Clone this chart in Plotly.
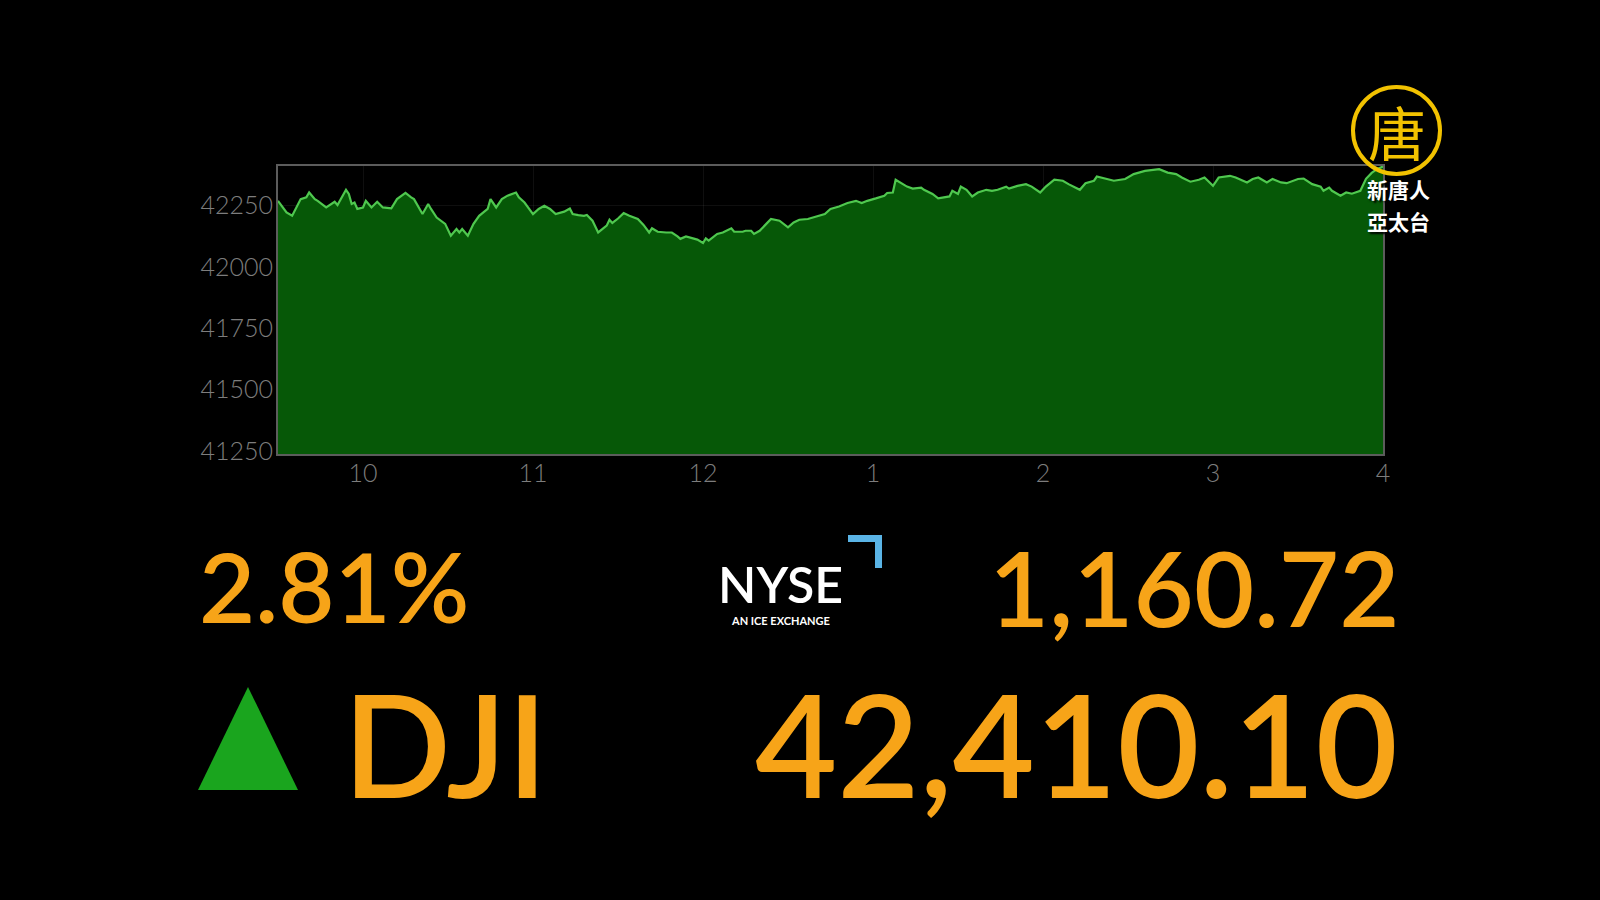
import plotly.graph_objects as go

# ---------------- data ----------------
session_date = "2025-05-12"
times = ["09:30","09:33","09:35","09:38","09:40","09:41","09:43","09:44","09:47","09:50",
         "09:51","09:53","09:54","09:55","09:56","09:57","09:58","10:00","10:01","10:03",
         "10:05","10:07","10:10","10:12","10:15","10:17","10:18","10:21","10:23","10:24",
         "10:26","10:29","10:31","10:33","10:34","10:35","10:37","10:39","10:41","10:44",
         "10:45","10:47","10:49","10:51","10:54","10:55","10:57","11:00","11:02","11:04",
         "11:06","11:08","11:11","11:13","11:14","11:16","11:18","11:19","11:21","11:23",
         "11:25","11:26","11:27","11:28","11:30","11:32","11:34","11:37","11:39","11:41",
         "11:42","11:44","11:47","11:49","11:51","11:52","11:54","11:57","11:58","12:00",
         "12:01","12:02","12:05","12:07","12:10","12:11","12:14","12:15","12:17","12:18",
         "12:20","12:22","12:24","12:27","12:30","12:32","12:34","12:37","12:39","12:41",
         "12:43","12:45","12:48","12:51","12:54","12:56","12:58","13:01","13:04","13:05",
         "13:07","13:08","13:10","13:12","13:14","13:17","13:18","13:21","13:23","13:25",
         "13:27","13:28","13:30","13:31","13:33","13:35","13:37","13:40","13:42","13:44",
         "13:47","13:48","13:51","13:54","13:56","13:59","14:01","14:04","14:07","14:09",
         "14:11","14:13","14:15","14:18","14:19","14:22","14:25","14:29","14:32","14:36",
         "14:41","14:44","14:47","14:49","14:52","14:55","14:57","15:00","15:02","15:06",
         "15:08","15:12","15:14","15:16","15:19","15:21","15:24","15:26","15:28","15:30",
         "15:32","15:34","15:35","15:38","15:39","15:41","15:42","15:45","15:47","15:49",
         "15:52","15:54","15:56","15:58","16:00"]
values = [42270,42223,42209,42277,42284,42304,42277,42270,42243,42266,
          42253,42298,42315,42298,42257,42263,42237,42243,42270,42243,
          42266,42243,42239,42277,42302,42284,42277,42216,42257,42237,
          42202,42176,42128,42155,42141,42155,42128,42176,42209,42237,
          42277,42243,42277,42291,42304,42284,42263,42216,42237,42250,
          42237,42216,42226,42239,42216,42212,42209,42212,42189,42141,
          42162,42169,42193,42180,42198,42220,42209,42196,42172,42141,
          42158,42144,42141,42141,42125,42115,42125,42117,42112,42098,
          42117,42108,42135,42141,42158,42144,42144,42148,42148,42135,
          42148,42172,42196,42189,42162,42182,42193,42196,42202,42209,
          42216,42237,42247,42261,42270,42261,42270,42280,42291,42302,
          42304,42356,42342,42328,42320,42324,42315,42298,42280,42284,
          42288,42311,42298,42328,42315,42288,42304,42315,42311,42315,
          42328,42320,42331,42338,42328,42304,42328,42356,42352,42338,
          42328,42315,42342,42352,42369,42359,42352,42359,42379,42392,
          42399,42385,42379,42365,42348,42356,42365,42331,42365,42372,
          42365,42345,42359,42365,42345,42359,42345,42342,42349,42359,
          42361,42345,42338,42328,42311,42324,42311,42291,42304,42299,
          42311,42360,42384,42400,42410]

tick_times = ["10:00","11:00","12:00","13:00","14:00","15:00","16:00"]
tick_labels = ["10","11","12","1","2","3","4"]
y_ticks = [41250, 41500, 41750, 42000, 42250]

index_name = "DJI"
pct_change = "2.81%"
point_change = "1,160.72"
close_value = "42,410.10"

# ---------------- layout geometry ----------------
W, H = 1600, 900
L, R, T, B = 278, 1383, 166, 454  # plot area in pixels

def px(x, y):
    return (x - L) / (R - L), (B - y) / (B - T)

x_vals = [f"{session_date} {t}" for t in times]

fig = go.Figure()
fig.add_trace(go.Scatter(
    x=x_vals, y=values, mode="lines",
    line=dict(color="#4fc84f", width=2.2),
    fill="tozeroy", fillcolor="#065807",
    hoverinfo="skip", showlegend=False))

grey = "#7d7d7d"
tick_font = dict(family="Lato, 'Open Sans', sans-serif", size=25, color=grey, weight=300)

fig.update_layout(
    width=W, height=H,
    paper_bgcolor="#000000", plot_bgcolor="#000000",
    margin=dict(l=L, r=W - R, t=T, b=H - B, pad=0),
    showlegend=False,
    xaxis=dict(
        type="date",
        range=[f"{session_date} 09:30", f"{session_date} 16:00"],
        tickvals=[f"{session_date} {t}" for t in tick_times],
        ticktext=tick_labels,
        tickfont=tick_font,
        showline=True, mirror=True, linecolor="#5c5c5c", linewidth=2,
        showgrid=True, gridcolor="rgba(255,255,255,0.06)", gridwidth=1,
        ticks="", ticklabelstandoff=-4, zeroline=False,
    ),
    yaxis=dict(
        range=[41238, 42412],
        tickvals=y_ticks,
        ticktext=[str(v) for v in y_ticks],
        tickfont=tick_font,
        showline=True, mirror=True, linecolor="#5c5c5c", linewidth=2,
        showgrid=True, gridcolor="rgba(255,255,255,0.06)", gridwidth=1,
        ticks="", ticklabelstandoff=-2, zeroline=False,
    ),
)

orange = "#f7a418"
num_font = "Lato, 'Open Sans', sans-serif"
annotations = []

def add_text(text, x, y, size, color, xanchor="left", family=num_font, weight="normal", shadow=None):
    ax, ay = px(x, y)
    f = dict(family=family, size=size, color=color, weight=weight)
    if shadow:
        f["shadow"] = shadow
    annotations.append(dict(text=text, x=ax, y=ay, xref="paper", yref="paper",
                            xanchor=xanchor, yanchor="middle", showarrow=False, font=f))

add_text(pct_change, 197, 585, 97, orange, "left", weight=600)
add_text(point_change, 1402, 586, 104, orange, "right", weight=600)
add_text(index_name, 341, 743, 142, orange, "left", weight=600)
add_text(close_value, 1400, 743, 142, orange, "right", weight=600)

# NYSE logo text
add_text("NYSE", 780, 584, 50, "#ffffff", "center", family="Lato, sans-serif", weight=600)
add_text("AN ICE EXCHANGE", 780, 620, 11, "#ffffff", "center", family="Lato, sans-serif", weight="bold")

# NTD watermark
add_text("唐", 1397, 131, 58, "#f2c200", "center", family="'Noto Sans CJK TC', sans-serif")
add_text("新唐人", 1398, 189, 21, "#ffffff", "center",
         family="'Noto Sans CJK TC', sans-serif", weight="bold", shadow="2px 2px 2px #000")
add_text("亞太台", 1398, 221, 21, "#ffffff", "center",
         family="'Noto Sans CJK TC', sans-serif", weight="bold", shadow="2px 2px 2px #000")

fig.update_layout(annotations=annotations)

def path(points):
    pts = [px(x, y) for x, y in points]
    return "M " + " L ".join(f"{a:.5f},{b:.5f}" for a, b in pts) + " Z"

shapes = [
    # up triangle
    dict(type="path", xref="paper", yref="paper",
         path=path([(248, 687), (198, 790), (298, 790)]),
         fillcolor="#1aa51e", line=dict(width=0)),
    # NYSE blue corner
    dict(type="path", xref="paper", yref="paper",
         path=path([(848, 535), (882, 535), (882, 568), (875, 568), (875, 542), (848, 542)]),
         fillcolor="#5ab4e6", line=dict(width=0)),
]
cx0, cy0 = px(1353, 174)
cx1, cy1 = px(1440, 87)
shapes.append(dict(type="circle", xref="paper", yref="paper",
                   x0=cx0, y0=cy0, x1=cx1, y1=cy1,
                   line=dict(color="#f2c200", width=4)))
fig.update_layout(shapes=shapes)

fig.write_html(
    "out.html",
    config={"displayModeBar": False},
    post_script="document.body.style.margin='0';document.body.style.background='#000';"
                "document.body.style.overflow='hidden';",
)
